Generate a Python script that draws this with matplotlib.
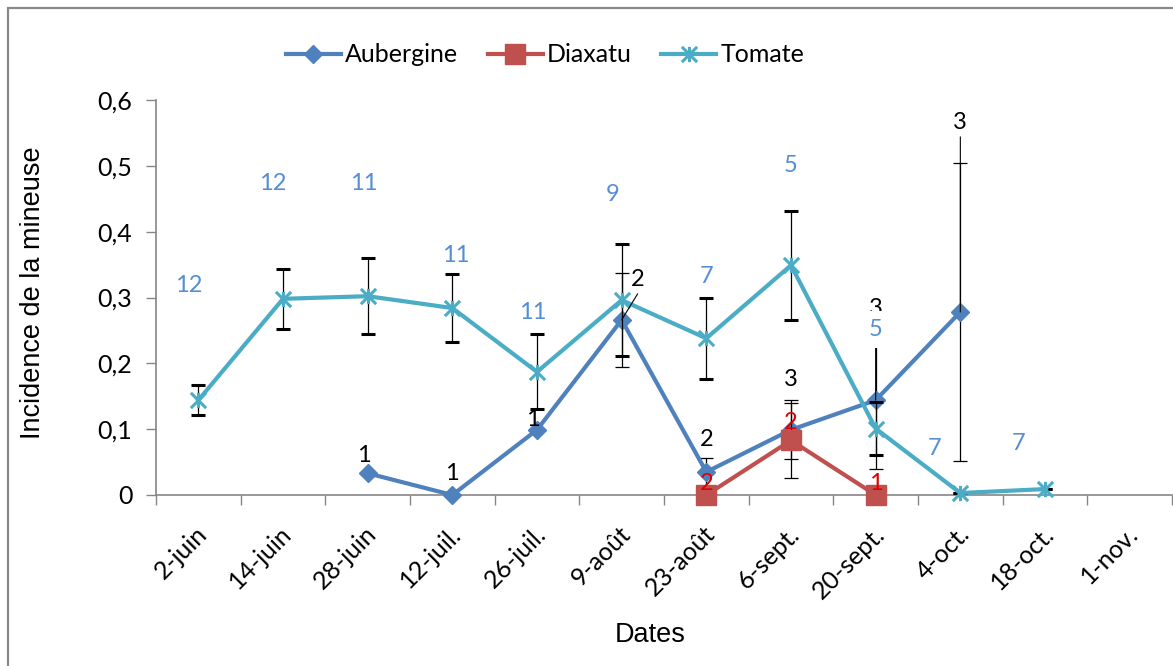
import numpy as np
import matplotlib
matplotlib.use('Agg')
import matplotlib.pyplot as plt
import matplotlib.transforms as mtransforms
from matplotlib.path import Path
from matplotlib.patches import Rectangle
from matplotlib.lines import Line2D

# données : incidence moyenne, demi-largeur des barres d'erreur, effectif par date
dates = ['2-juin', '14-juin', '28-juin', '12-juil.', '26-juil.', '9-août', '23-août',
         '6-sept.', '20-sept.', '4-oct.', '18-oct.', '1-nov.']
nan = np.nan

aubergine = [nan, nan, 0.033, 0.0, 0.099, 0.266, 0.035, 0.099, 0.144, 0.278, nan, nan]
aubergine_err = [0, 0, 0, 0, 0, 0.071, 0.021, 0.045, 0.105, 0.227, 0, 0]
aubergine_n = [None, None, 1, 1, 1, 2, 2, 3, 3, 3, None, None]

diaxatu = [nan, nan, nan, nan, nan, nan, 0.0, 0.083, 0.0, nan, nan, nan]
diaxatu_err = [0, 0, 0, 0, 0, 0, 0, 0.057, 0, 0, 0, 0]
diaxatu_n = [None, None, None, None, None, None, 2, 2, 1, None, None, None]

tomate = [0.144, 0.298, 0.302, 0.284, 0.187, 0.296, 0.238, 0.349, 0.101, 0.003, 0.009, nan]
tomate_err = [0.023, 0.046, 0.058, 0.052, 0.057, 0.085, 0.062, 0.083, 0.040, 0, 0, 0]
tomate_n = [12, 12, 11, 11, 11, 9, 7, 5, 5, 7, 7, None]

# décalage des étiquettes (pixels, vers la droite / vers le haut)
aub_off = [None, None, (-4, 18), (0, 22), (-4, 10), (16, 40), (0, 32), (0, 50), (0, 92), (0, 189), None, None]
dia_off = [None, None, None, None, None, None, (0, 12), (0, 18), (0, 12), None, None, None]
tom_off = [(-10, 115), (-10, 115), (-4, 113), (3, 53), (-4, 59), (-9, 106), (0, 62), (0, 100), (0, 99), (-26, 45), (-26, 46), None]
leader = [5, 8, 9]
boite = [8]   # étiquette sur fond blanc

c_aub = '#4F81BD'
c_dia = '#C0504D'
c_tom = '#4BACC6'
calibri = ['Lato', 'DejaVu Sans']
arial = ['Liberation Sans', 'DejaVu Sans']
fs = 18      # graduations et légende
fs_lab = 17  # étiquettes de données

W, H = 1173, 666
fig = plt.figure(figsize=(W / 100, H / 100), dpi=100)
ax = fig.add_axes([156 / W, 1 - 495 / H, 1016 / W, 395 / H])

# bordure de la zone de graphique
fig.patches.append(Rectangle((8 / W, -0.2), 2, 1.2 - 8 / H, transform=fig.transFigure,
                             fill=False, edgecolor='#898989', lw=1.6))

x = np.arange(len(dates))
star = Path([(-1, -1), (1, 1), (-1, 1), (1, -1), (0, -1), (0, 1)],
            [Path.MOVETO, Path.LINETO, Path.MOVETO, Path.LINETO, Path.MOVETO, Path.LINETO])

lw = 3.0
ekw = dict(ecolor='black', elinewidth=0.9, capsize=4.7, capthick=0.9, clip_on=False)

ax.errorbar(x, aubergine, yerr=aubergine_err, color=c_aub, lw=lw, marker='D', ms=9,
            zorder=3, **ekw)
ax.errorbar(x, diaxatu, yerr=diaxatu_err, color=c_dia, lw=lw, marker='s', ms=15,
            zorder=4, **ekw)
ax.errorbar(x, tomate, yerr=tomate_err, color=c_tom, lw=lw, marker=star, ms=11,
            mfc='none', mec=c_tom, mew=2.2, zorder=5, **ekw)


def etiquettes(vals, ns, offs, color, boxed=()):
    for i, (v, n, o) in enumerate(zip(vals, ns, offs)):
        if n is None:
            continue
        bb = dict(boxstyle='square,pad=0.35', fc='white', ec='none') if i in boxed else None
        ax.annotate(str(n), (i, v), xytext=(o[0] * 0.72, o[1] * 0.72), textcoords='offset points',
                    ha='center', va='center', color=color, fontsize=fs_lab, family=calibri,
                    bbox=bb, zorder=8 if bb else 7, annotation_clip=False)


etiquettes(aubergine, aubergine_n, aub_off, 'black')
etiquettes(diaxatu, diaxatu_n, dia_off, '#E00000')
etiquettes(tomate, tomate_n, tom_off, '#558ED5', boxed=boite)

# lignes de rappel des étiquettes éloignées
for i in leader:
    o = aub_off[i]
    ax.annotate('', (i, aubergine[i]), xytext=(o[0] * 0.72, o[1] * 0.72 - 10), textcoords='offset points',
                arrowprops=dict(arrowstyle='-', color='black', lw=0.8, shrinkA=0, shrinkB=0),
                zorder=6, annotation_clip=False)

ax.set_xlim(-0.5, len(dates) - 0.5)
ax.set_ylim(0, 0.6)
ax.set_xticks(np.arange(len(dates) + 1) - 0.5)
ax.set_xticklabels([])
ax.set_xticks(x, minor=True)
ax.set_xticklabels(dates, minor=True)
ax.tick_params(axis='x', which='major', length=7, width=1, color='#868686', direction='out')
ax.tick_params(axis='x', which='minor', length=0, pad=19.5, labelsize=fs)
shift = mtransforms.ScaledTranslation(-3 / 100, 0, fig.dpi_scale_trans)
for lab in ax.get_xticklabels(minor=True):
    lab.set_rotation(45)
    lab.set_ha('right')
    lab.set_va('top')
    lab.set_rotation_mode('anchor')
    lab.set_family(calibri)
    lab.set_transform(lab.get_transform() + shift)

yt = np.arange(0, 0.61, 0.1)
ax.set_yticks(yt)
ax.set_yticklabels(['0'] + [f'{v:.1f}'.replace('.', ',') for v in yt[1:]], family=calibri)
ax.tick_params(axis='y', length=7, width=1, color='#868686', direction='out', pad=10, labelsize=fs)

for s in ['top', 'right']:
    ax.spines[s].set_visible(False)
for s in ['left', 'bottom']:
    ax.spines[s].set_color('#868686')
    ax.spines[s].set_linewidth(1.2)

fig.text(33 / W, 1 - 293 / H, 'Incidence de la mineuse', rotation=90, ha='center', va='center',
         fontsize=19.5, family=arial)
fig.text(650 / W, 1 - 635 / H, 'Dates', ha='center', va='center', fontsize=19.5, family=arial)

handles = [
    Line2D([], [], color=c_aub, lw=lw, marker='D', ms=9),
    Line2D([], [], color=c_dia, lw=lw, marker='s', ms=15),
    Line2D([], [], color=c_tom, lw=lw, marker=star, ms=11, mfc='none', mec=c_tom, mew=2.2),
]
fig.legend(handles, ['Aubergine', 'Diaxatu', 'Tomate'], loc='center', bbox_to_anchor=(545 / W, 1 - 55 / H),
           ncol=3, frameon=False, handlelength=2.2, handletextpad=0.15, columnspacing=1.2,
           prop={'family': calibri, 'size': fs})

fig.savefig('out.png', dpi=100)
